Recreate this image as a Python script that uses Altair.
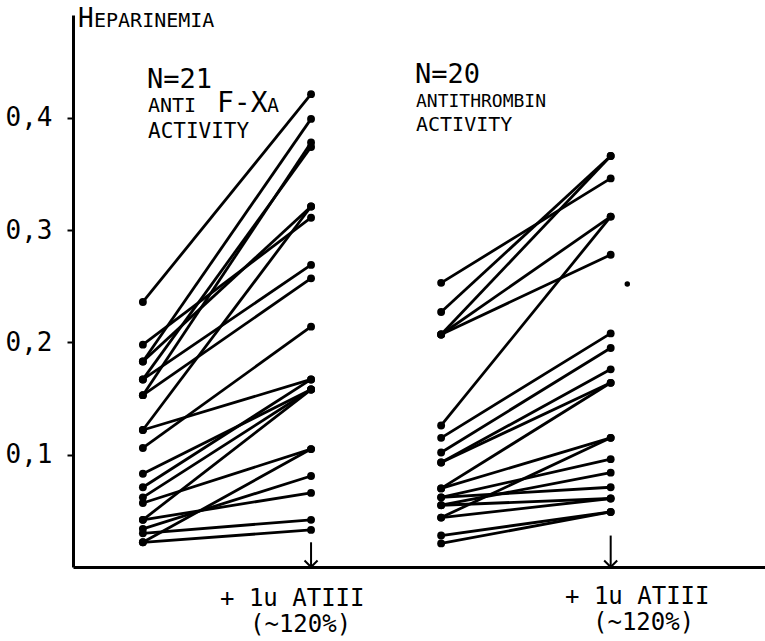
import altair as alt
import pandas as pd

# Heparinemia before and after adding 1u ATIII
fxa_before = [0.236, 0.183, 0.153, 0.167, 0.198, 0.183, 0.167, 0.153, 0.122, 0.122, 0.106,
              0.083, 0.071, 0.062, 0.042, 0.057, 0.022, 0.034, 0.042, 0.030, 0.022]
fxa_after = [0.421, 0.399, 0.378, 0.374, 0.311, 0.321, 0.269, 0.257, 0.321, 0.167, 0.214,
             0.158, 0.167, 0.158, 0.158, 0.105, 0.105, 0.081, 0.066, 0.042, 0.033]

at_before = [0.253, 0.227, 0.207, 0.207, 0.207, 0.126, 0.115, 0.102, 0.093, 0.093,
             0.070, 0.070, 0.062, 0.055, 0.062, 0.055, 0.044, 0.044, 0.028, 0.021]
at_after = [0.346, 0.366, 0.366, 0.312, 0.278, 0.312, 0.208, 0.195, 0.176, 0.164,
            0.164, 0.115, 0.096, 0.084, 0.071, 0.061, 0.115, 0.061, 0.049, 0.049]

stray_value = [0.252]
y_ticks = [0.1, 0.2, 0.3, 0.4]

# ---- layout ----
LEFT, TOP = 73, 15
W, H = 692, 552
Y_MAX = 0.4915
COL = {"fxa": (10.1, 34.4), "at": (53.2, 77.7)}
STRAY_X = 80.1
FONT = "DejaVu Sans Mono"

seg_rows = []
pt_rows = []
for key, before, after in (("fxa", fxa_before, fxa_after), ("at", at_before, at_after)):
    xb, xa = COL[key]
    for i, (b, a) in enumerate(zip(before, after)):
        seg_rows.append({"id": f"{key}{i}", "x0": xb, "x1": xa, "v0": b, "v1": a})
        pt_rows.append({"x": xb, "v": b})
        pt_rows.append({"x": xa, "v": a})
segs = pd.DataFrame(seg_rows)
pts = pd.DataFrame(pt_rows)

xscale = alt.Scale(domain=[0, 100], nice=False, zero=False)
yscale = alt.Scale(domain=[0, Y_MAX], nice=False, zero=False)

x_axis = alt.Axis(ticks=False, labels=False, title=None, grid=False,
                  domainColor="black", domainWidth=3)
y_axis = alt.Axis(values=y_ticks, title=None, grid=False,
                  labelExpr="replace(format(datum.value, '.1f'), '.', ',')",
                  labelFont=FONT, labelFontSize=26, labelColor="black",
                  labelPadding=15, tickSize=6, tickWidth=2, tickColor="black",
                  domainColor="black", domainWidth=3)

lines = alt.Chart(segs).mark_rule(color="black", strokeWidth=2.8).encode(
    x=alt.X("x0:Q", scale=xscale, axis=x_axis),
    x2="x1:Q",
    y=alt.Y("v0:Q", scale=yscale, axis=y_axis),
    y2="v1:Q",
)

dots = alt.Chart(pts).mark_circle(color="black", opacity=1, size=62).encode(
    x=alt.X("x:Q", scale=xscale, axis=x_axis),
    y=alt.Y("v:Q", scale=yscale, axis=y_axis),
)

stray = alt.Chart(pd.DataFrame({"x": [STRAY_X], "v": stray_value})).mark_circle(
    color="black", opacity=1, size=30
).encode(
    x=alt.X("x:Q", scale=xscale, axis=x_axis),
    y=alt.Y("v:Q", scale=yscale, axis=y_axis),
)

# arrows marking the ATIII addition
arrows = pd.DataFrame({"x": [COL["fxa"][1], COL["at"][1]], "top": [0.022, 0.028], "bot": [0.0, 0.0]})
shafts = alt.Chart(arrows).mark_rule(color="black", strokeWidth=2).encode(
    x=alt.X("x:Q", scale=xscale, axis=x_axis),
    y=alt.Y("top:Q", scale=yscale, axis=y_axis),
    y2="bot:Q",
)
heads = alt.Chart(arrows).mark_point(
    shape="M-1,-1L0,0L1,-1", filled=False, color="black", strokeWidth=2, size=170, opacity=1
).encode(
    x=alt.X("x:Q", scale=xscale, axis=x_axis),
    y=alt.Y("bot:Q", scale=yscale, axis=y_axis),
)

# text annotations (page coordinates shifted to the plot origin)
texts = [
    ("H", 78, 27, 26),
    ("EPARINEMIA", 94, 27, 20),
    ("N=21", 147, 88, 27),
    ("ANTI", 148, 112, 20),
    ("F-X", 217, 112, 28),
    ("A", 267, 112, 20),
    ("ACTIVITY", 148, 138, 21),
    ("N=20", 415, 83, 27),
    ("ANTITHROMBIN", 416, 107, 18),
    ("ACTIVITY", 416, 131, 20),
    ("+ 1u ATIII", 220, 606, 24),
    ("(~120%)", 250, 632, 24),
    ("+ 1u ATIII", 565, 604, 24),
    ("(~120%)", 593, 630, 24),
]
one = pd.DataFrame({"k": [0]})
text_layers = [
    alt.Chart(one).mark_text(font=FONT, fontSize=fs, color="black", align="left",
                             baseline="alphabetic").encode(
        x=alt.value(px - LEFT), y=alt.value(py - TOP), text=alt.value(t)
    )
    for t, px, py, fs in texts
]

chart = alt.layer(lines, dots, stray, shafts, heads, *text_layers).properties(
    width=W, height=H,
    autosize=alt.AutoSizeParams(type="none"),
    padding={"left": LEFT, "top": TOP, "right": 0, "bottom": 641 - TOP - H},
    background="white",
).configure_view(stroke=None)

chart.save("out.html", embed_options={"renderer": "svg", "actions": False})
